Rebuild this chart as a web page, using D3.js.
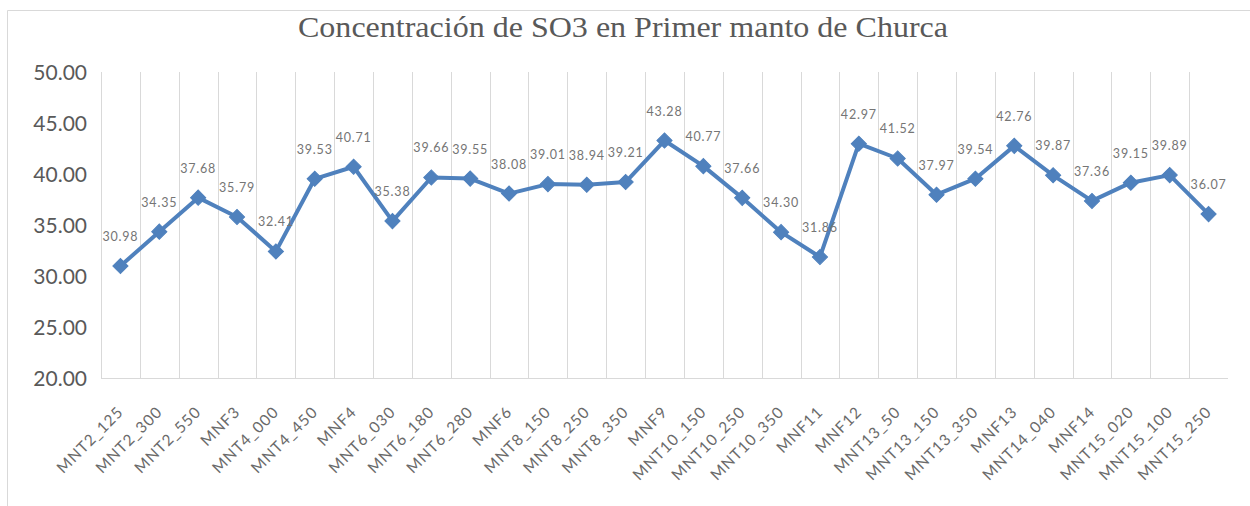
<!DOCTYPE html>
<html>
<head>
<meta charset="utf-8">
<script src="https://cdn.jsdelivr.net/npm/d3@7"></script>
<style>
  html, body { margin: 0; padding: 0; background: #fff; }
  svg { display: block; }
</style>
</head>
<body>
<svg id="chart" width="1250" height="506"></svg>
<script>
// Muestras (eje X)
const categories = [
  "MNT2_125", "MNT2_300", "MNT2_550", "MNF3", "MNT4_000", "MNT4_450", "MNF4",
  "MNT6_030", "MNT6_180", "MNT6_280", "MNF6", "MNT8_150", "MNT8_250", "MNT8_350",
  "MNF9", "MNT10_150", "MNT10_250", "MNT10_350", "MNF11", "MNF12", "MNT13_50",
  "MNT13_150", "MNT13_350", "MNF13", "MNT14_040", "MNF14", "MNT15_020",
  "MNT15_100", "MNT15_250"
];

// Concentración de SO3 (%)
const so3Values = [
  30.98, 34.35, 37.68, 35.79, 32.41, 39.53, 40.71,
  35.38, 39.66, 39.55, 38.08, 39.01, 38.94, 39.21,
  43.28, 40.77, 37.66, 34.30, 31.86, 42.97, 41.52,
  37.97, 39.54, 42.76, 39.87, 37.36, 39.15,
  39.89, 36.07
];

// Marcas del eje Y
const yTicks = [20, 25, 30, 35, 40, 45, 50];

const title = "Concentración de SO3 en Primer manto de Churca";

const svg = d3.select("#chart");
const W = 1250, H = 506;
const plot = { left: 101, right: 1228, top: 72, bottom: 378 };

// Marco exterior del gráfico
svg.append("path")
  .attr("d", `M7.5,${H} L7.5,10.5 L${W},10.5`)
  .attr("fill", "none")
  .attr("stroke", "#d9d9d9")
  .attr("stroke-width", 1);

const x = d3.scaleBand()
  .domain(categories)
  .range([plot.left, plot.right])
  .paddingInner(0).paddingOuter(0);

const y = d3.scaleLinear()
  .domain([20, 50])
  .range([plot.bottom, plot.top]);

const cx = d => x(d) + x.bandwidth() / 2;

// Líneas de división verticales entre categorías
svg.append("g")
  .selectAll("line")
  .data(categories)
  .join("line")
  .attr("x1", d => Math.round(x(d)) + 0.5)
  .attr("x2", d => Math.round(x(d)) + 0.5)
  .attr("y1", plot.top)
  .attr("y2", plot.bottom)
  .attr("stroke", "#d9d9d9")
  .attr("stroke-width", 1);

// Eje horizontal
svg.append("line")
  .attr("x1", plot.left).attr("x2", plot.right)
  .attr("y1", plot.bottom + 0.5).attr("y2", plot.bottom + 0.5)
  .attr("stroke", "#d9d9d9")
  .attr("stroke-width", 1);

// Etiquetas del eje Y
const yAxis = d3.axisLeft(y)
  .tickValues(yTicks)
  .tickFormat(d3.format(".2f"))
  .tickSize(0)
  .tickPadding(14);

const gy = svg.append("g")
  .attr("transform", `translate(${plot.left},0)`)
  .call(yAxis);
gy.select(".domain").remove();
gy.selectAll("text")
  .attr("font-family", "Lato, 'Open Sans', sans-serif")
  .attr("font-size", 21)
  .attr("fill", "#595959")
  .attr("dy", "0.36em");

// Etiquetas del eje X, giradas 45°
const xAxis = d3.axisBottom(x).tickSize(0).tickPadding(0);
const gx = svg.append("g")
  .attr("transform", `translate(0,${plot.bottom})`)
  .call(xAxis);
gx.select(".domain").remove();
gx.selectAll("text")
  .attr("font-family", "Lato, 'Open Sans', sans-serif")
  .attr("font-size", 15.5)
  .attr("letter-spacing", 1)
  .attr("fill", "#6a6a6a")
  .attr("text-anchor", "end")
  .attr("dy", 0)
  .attr("y", 0)
  .attr("transform", "translate(4,35) rotate(-45)");

// Serie
const line = d3.line()
  .x((d, i) => cx(categories[i]))
  .y(d => y(d));

svg.append("path")
  .datum(so3Values)
  .attr("d", line)
  .attr("fill", "none")
  .attr("stroke", "#4f81bd")
  .attr("stroke-width", 4)
  .attr("stroke-linejoin", "round");

// Marcadores en forma de rombo
svg.append("g")
  .selectAll("path")
  .data(so3Values)
  .join("path")
  .attr("d", d3.symbol().type(d3.symbolSquare).size(115))
  .attr("transform", (d, i) => `translate(${cx(categories[i])},${y(d)}) rotate(45)`)
  .attr("fill", "#4f81bd")
  .attr("stroke", "#4f81bd")
  .attr("stroke-width", 1);

// Etiquetas de datos
svg.append("g")
  .selectAll("text")
  .data(so3Values)
  .join("text")
  .attr("x", (d, i) => cx(categories[i]))
  .attr("y", d => y(d) - 25)
  .attr("text-anchor", "middle")
  .attr("font-family", "Lato, 'Open Sans', sans-serif")
  .attr("font-size", 12.5)
  .attr("letter-spacing", 0.8)
  .attr("fill", "#757575")
  .text(d => d3.format(".2f")(d));

// Título
svg.append("text")
  .attr("x", 623)
  .attr("y", 37)
  .attr("text-anchor", "middle")
  .attr("font-family", "'Liberation Serif', 'DejaVu Serif', serif")
  .attr("font-size", 29)
  .attr("textLength", 650)
  .attr("lengthAdjust", "spacingAndGlyphs")
  .attr("fill", "#595959")
  .text(title);
</script>
</body>
</html>
